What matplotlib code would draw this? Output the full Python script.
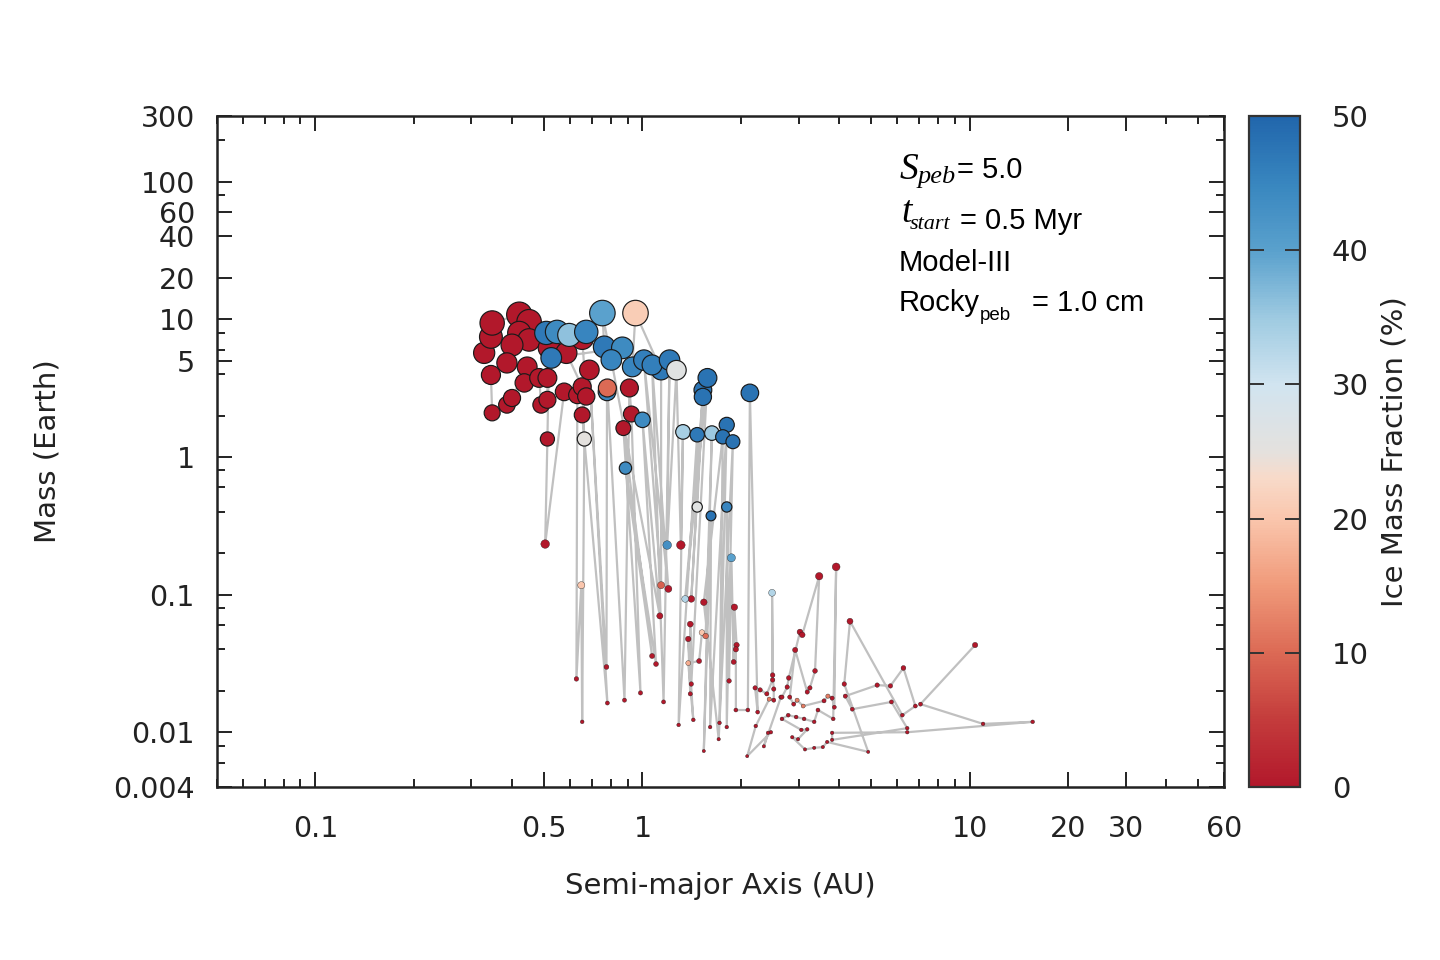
import numpy as np
import matplotlib
matplotlib.use('Agg')
import matplotlib.pyplot as plt
from matplotlib.colors import LinearSegmentedColormap
from matplotlib.ticker import FixedLocator, LogLocator, NullFormatter

# 行星数据（按文件顺序，灰线按顺序连接）
a_au = [0.328, 0.344, 0.347, 0.420, 0.450, 0.420, 0.450, 0.399, 0.385, 0.344,
        0.347, 0.385, 0.399, 0.444, 0.435, 0.483, 0.490, 0.512, 0.512, 0.518,
        0.512, 0.504, 0.576, 0.632, 0.628, 0.650, 0.654, 0.664, 0.654, 0.585,
        0.654, 0.673, 0.654, 0.781, 0.688, 0.776, 0.779, 0.781, 0.881, 0.912,
        0.925, 0.986, 0.874, 1.07, 0.887, 1.10, 1.00, 1.13, 0.754, 0.764,
        0.508, 0.548, 0.597, 0.673, 0.526, 0.868, 0.803, 0.931, 0.952, 1.14,
        1.14, 1.01, 1.20, 1.07, 1.16, 1.21, 1.19, 1.27, 1.31, 1.33,
        1.29, 1.47, 1.47, 1.53, 1.41, 1.53, 1.35, 1.58, 1.41, 1.40,
        1.40, 1.38, 1.43, 1.38, 1.49, 1.52, 1.56, 1.63, 1.54, 1.62,
        1.61, 1.81, 1.72, 1.76, 1.54, 1.71, 1.89, 1.81, 1.81, 1.84,
        1.87, 1.90, 1.91, 1.94, 1.93, 1.93, 2.10, 2.13, 2.25, 2.21,
        2.29, 2.40, 2.50, 2.49, 2.50, 2.52, 2.52, 2.44, 2.22, 2.09,
        2.47, 2.42, 2.35, 2.65, 2.67, 2.77, 2.80, 3.03, 3.08, 3.47,
        3.37, 3.25, 3.19, 2.93, 2.82, 2.90, 2.97, 3.10, 3.59, 3.69,
        3.80, 3.86, 3.91, 3.83, 3.44, 3.35, 3.12, 2.95, 2.79, 2.67,
        3.06, 3.19, 2.99, 2.87, 3.14, 3.35, 3.56, 3.67, 4.90, 4.14,
        4.31, 6.23, 6.83, 6.28, 5.73, 5.22, 4.17, 4.38, 5.77, 6.45,
        3.80, 3.80, 6.45, 15.6, 11.0, 7.08, 10.4]
mass = [5.7, 7.45, 9.4, 10.8, 9.6, 7.96, 7.08, 6.5, 4.82, 3.94,
        2.09, 2.39, 2.68, 4.51, 3.45, 3.75, 2.39, 2.6, 3.75, 6.2,
        1.35, 0.233, 2.97, 2.82, 0.0244, 0.117, 0.0119, 1.35, 3.23, 5.7,
        7.3, 2.75, 2.02, 0.0163, 4.29, 0.0298, 2.97, 3.17, 0.0171, 3.17,
        2.05, 0.0193, 1.62, 0.0358, 0.83, 0.0313, 1.86, 0.070, 11.1, 6.3,
        7.96, 8.1, 7.7, 8.1, 5.24, 6.2, 5.07, 4.51, 11.1, 4.27,
        0.117, 5.05, 0.110, 4.66, 0.0166, 5.05, 0.229, 4.27, 0.229, 1.52,
        0.0113, 1.45, 0.433, 3.06, 0.093, 2.73, 0.093, 3.75, 0.0224, 0.061,
        0.0190, 0.0476, 0.0123, 0.0318, 0.0329, 0.053, 0.050, 1.49, 0.0073, 0.373,
        0.0109, 1.71, 0.0117, 1.40, 0.088, 0.0089, 1.29, 0.0109, 0.433, 0.0236,
        0.185, 0.0324, 0.081, 0.043, 0.040, 0.0145, 0.0145, 2.92, 0.0140, 0.0210,
        0.0203, 0.0190, 0.0240, 0.103, 0.0260, 0.0206, 0.0171, 0.0174, 0.0111, 0.0067,
        0.0100, 0.0099, 0.0079, 0.0180, 0.0180, 0.0213, 0.0248, 0.0535, 0.051, 0.136,
        0.0279, 0.0210, 0.0196, 0.0396, 0.0180, 0.0160, 0.0171, 0.0155, 0.0169, 0.0183,
        0.0177, 0.0152, 0.159, 0.0125, 0.0145, 0.0119, 0.0125, 0.0129, 0.0133, 0.0125,
        0.0104, 0.0105, 0.0089, 0.0092, 0.0075, 0.0077, 0.0078, 0.0085, 0.0072, 0.0224,
        0.064, 0.0133, 0.0155, 0.0293, 0.0217, 0.0220, 0.0183, 0.0147, 0.0166, 0.0107,
        0.0088, 0.0099, 0.0100, 0.0119, 0.0115, 0.0160, 0.043]
ice = [0, 0, 0, 0, 0, 0, 0, 0, 0, 0,
       0, 0, 0, 0, 0, 0, 0, 0, 0, 0,
       0, 0, 0, 0, 0, 20, 0, 25, 0, 0,
       0, 0, 0, 0, 0, 0, 45, 10, 0, 0,
       0, 0, 0, 0, 44, 0, 44, 0, 40, 47,
       47, 44, 36, 45, 47, 44, 45, 45, 21, 47,
       9, 46, 0, 46, 0, 47, 43, 26, 0, 34,
       0, 47, 26, 48, 0, 48, 33, 48, 0, 0,
       0, 0, 0, 17, 0, 20, 10, 35, 0, 48,
       0, 48, 0, 48, 0, 0, 48, 0, 45, 0,
       40, 0, 0, 0, 0, 0, 0, 48, 0, 0,
       0, 0, 0, 33, 0, 0, 0, 12, 0, 0,
       0, 0, 0, 0, 0, 0, 0, 0, 0, 0,
       0, 0, 0, 0, 0, 0, 12, 12, 0, 12,
       0, 0, 0, 0, 0, 0, 0, 0, 0, 0,
       0, 0, 0, 0, 0, 0, 0, 0, 0, 0,
       0, 0, 0, 0, 0, 0, 0, 0, 0, 0,
       0, 0, 0, 0, 0, 0, 0]

x_ticks = [0.1, 0.5, 1, 10, 20, 30, 60]
x_tick_labels = ['0.1', '0.5', '1', '10', '20', '30', '60']
y_ticks = [0.004, 0.01, 0.1, 1, 5, 10, 20, 40, 60, 100, 300]
y_tick_labels = ['0.004', '0.01', '0.1', '1', '5', '10', '20', '40', '60', '100', '300']
cbar_ticks = [0, 10, 20, 30, 40, 50]

a_au = np.array(a_au)
mass = np.array(mass)
ice = np.array(ice)

# 颜色表：红-灰-蓝
cmap = LinearSegmentedColormap.from_list('ice', [
    (0.0, '#b2182b'), (0.1, '#c43c3c'), (0.2, '#dc6a55'), (0.3, '#f09a7a'),
    (0.4, '#fac6ad'), (0.46, '#f8dac9'), (0.5, '#e4e1de'), (0.6, '#d1e4f0'),
    (0.7, '#9ecae1'), (0.8, '#5aa1cd'), (0.9, '#3886bf'), (1.0, '#2166ac')])

dark = '#222222'
plt.rcParams['font.family'] = ['DejaVu Sans']
fs = 20.5

fig = plt.figure(figsize=(14.4, 9.6), dpi=100)
ax = fig.add_axes([0.1507, 0.1802, 0.6993, 0.6990])
cax = fig.add_axes([0.8674, 0.1802, 0.0354, 0.6990])

# 连线
ax.plot(a_au, mass, color='#c0c0c0', lw=1.6, zorder=1)

# 点的大小随质量变化
d_px = 13.0 * mass ** 0.28
sizes = (d_px * 0.72) ** 2
edge_w = np.where(mass > 0.3, 0.85, 0.25)
sc = ax.scatter(a_au, mass, s=sizes, c=ice, cmap=cmap, vmin=0, vmax=50,
                edgecolors='#1a1a1a', linewidths=edge_w, zorder=2)

ax.set_xscale('log')
ax.set_yscale('log')
ax.set_xlim(0.05, 60)
ax.set_ylim(0.004, 300)

ax.xaxis.set_major_locator(FixedLocator(x_ticks))
ax.set_xticklabels(x_tick_labels)
ax.xaxis.set_minor_locator(LogLocator(base=10, subs=np.arange(2, 10), numticks=30))
ax.xaxis.set_minor_formatter(NullFormatter())
ax.yaxis.set_major_locator(FixedLocator(y_ticks))
ax.set_yticklabels(y_tick_labels)
ax.yaxis.set_minor_locator(FixedLocator([k * 10.0 ** e for e in range(-3, 3) for k in (2, 4, 6, 8)]))
ax.yaxis.set_minor_formatter(NullFormatter())

ax.tick_params(which='both', direction='in', top=True, right=True, width=1.4,
               color=dark, labelcolor=dark, labelsize=fs)
ax.tick_params(which='major', length=11)
ax.tick_params(which='minor', length=6)
ax.tick_params(axis='x', which='major', pad=20)
ax.tick_params(axis='y', which='major', pad=16)
for sp in ax.spines.values():
    sp.set_linewidth(1.8)
    sp.set_color(dark)

ax.set_xlabel('Semi-major Axis (AU)', fontsize=21, color=dark, labelpad=21)
ax.set_ylabel('Mass (Earth)', fontsize=21, color=dark, labelpad=37)

# 色条
cb = fig.colorbar(sc, cax=cax, ticks=cbar_ticks)
cb.minorticks_off()
cb.outline.set_linewidth(1.6)
cb.outline.set_edgecolor('#333333')
cax.tick_params(direction='in', left=True, right=True, length=11, width=1.4,
                color='#333333', labelcolor=dark, labelsize=21, pad=23)
cb.set_label('Ice Mass Fraction (%)', fontsize=21, color=dark, labelpad=8)

# 参数注释
serif = ['Liberation Serif', 'DejaVu Serif']
sans = ['Liberation Sans', 'DejaVu Sans']
ts = 21
fig.text(900 / 1440, 1 - 179 / 960, 'S', family=serif, style='italic', fontsize=27, va='baseline')
fig.text(918 / 1440, 1 - 183 / 960, 'peb', family=serif, style='italic', fontsize=19, va='baseline')
fig.text(957 / 1440, 1 - 178 / 960, '= 5.0', family=sans, fontsize=ts, va='baseline')
fig.text(901 / 1440, 1 - 222 / 960, 't', family=serif, style='italic', fontsize=27, va='baseline')
fig.text(910 / 1440, 1 - 229 / 960, 'start', family=serif, style='italic', fontsize=16, va='baseline')
fig.text(960 / 1440, 1 - 229 / 960, '= 0.5 Myr', family=sans, fontsize=ts, va='baseline')
fig.text(899 / 1440, 1 - 271 / 960, 'Model-III', family=sans, fontsize=ts, va='baseline')
fig.text(899 / 1440, 1 - 311 / 960, 'Rocky', family=sans, fontsize=ts, va='baseline')
fig.text(980 / 1440, 1 - 320 / 960, 'peb', family=sans, fontsize=13.5, va='baseline')
fig.text(1032 / 1440, 1 - 311 / 960, '= 1.0 cm', family=sans, fontsize=ts, va='baseline')

fig.savefig('out.png', dpi=100)
